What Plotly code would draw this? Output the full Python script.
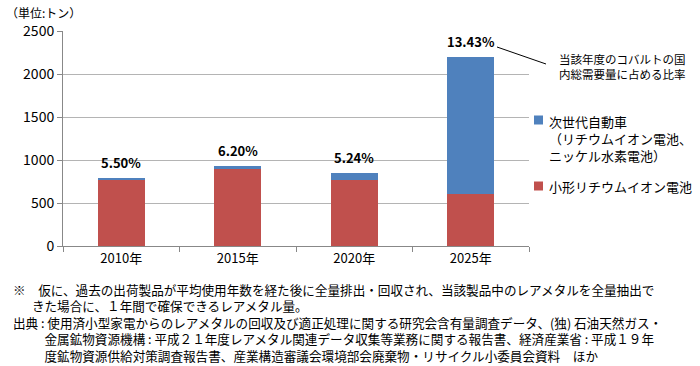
import plotly.graph_objects as go

years = ["2010年", "2015年", "2020年", "2025年"]
small_li = [775, 900, 770, 600]          # 小形リチウムイオン電池
next_car = [10, 30, 80, 1600]            # 次世代自動車
ratios = ["5.50%", "6.20%", "5.24%", "13.43%"]

RED = "#C0504D"
BLUE = "#4F81BD"
FONT = "Noto Sans CJK JP"

fig = go.Figure()
fig.add_bar(x=years, y=small_li, marker_color=RED, width=0.4, name="小形リチウムイオン電池",
            marker_line_width=0)
fig.add_bar(x=years, y=next_car, marker_color=BLUE, width=0.4, name="次世代自動車",
            marker_line_width=0)

totals = [a + b for a, b in zip(small_li, next_car)]
for yr, tot, r in zip(years, totals, ratios):
    fig.add_annotation(x=yr, y=tot, text="<b>%s</b>" % r, showarrow=False,
                       yanchor="bottom", yshift=4, font=dict(size=13, color="black", family=FONT))


def px(xp):
    return (xp - 63) / 466


def py(yp):
    return (246 - yp) / 215


# pointer line from 13.43% to the callout
fig.add_shape(type="line", xref="paper", yref="paper",
              x0=px(497), y0=py(47), x1=px(546), y1=py(64),
              line=dict(color="black", width=1))
fig.add_annotation(xref="paper", yref="paper", x=px(557), y=py(66.5),
                   text="当該年度のコバルトの国<br>内総需要量に占める比率", showarrow=False,
                   xanchor="left", yanchor="middle", align="left",
                   font=dict(size=11.5, color="black", family=FONT))

# manual legend
for yc, col in [(120, BLUE), (186, RED)]:
    fig.add_shape(type="rect", xref="paper", yref="paper",
                  x0=px(534), x1=px(543), y0=py(yc + 4.5), y1=py(yc - 4.5),
                  fillcolor=col, line_width=0)
fig.add_annotation(xref="paper", yref="paper", x=px(547), y=py(110), yanchor="top",
                   xanchor="left", align="left", showarrow=False,
                   text="次世代自動車<br>（リチウムイオン電池、<br>ニッケル水素電池）",
                   font=dict(size=13, color="black", family=FONT))
fig.add_annotation(xref="paper", yref="paper", x=px(547), y=py(186), yanchor="middle",
                   xanchor="left", align="left", showarrow=False,
                   text="小形リチウムイオン電池",
                   font=dict(size=13, color="black", family=FONT))

# unit label
fig.add_annotation(xref="paper", yref="paper", x=px(4), y=py(12.5), xanchor="left", yanchor="middle",
                   showarrow=False, text="（単位:トン）", font=dict(size=12, color="black", family=FONT))

# footnotes (one block, indents with wide spaces)
notes = [
    "※\u3000仮に、過去の出荷製品が平均使用年数を経た後に全量排出・回収され、当該製品中のレアメタルを全量抽出で",
    "\u3000\u2002きた場合に、１年間で確保できるレアメタル量。",
    "出典 : 使用済小型家電からのレアメタルの回収及び適正処理に関する研究会含有量調査データ、(独) 石油天然ガス・",
    "\u3000\u3000\u2002金属鉱物資源機構 : 平成２１年度レアメタル関連データ収集等業務に関する報告書、経済産業省 : 平成１９年",
    "\u3000\u3000\u2002度鉱物資源供給対策調査報告書、産業構造審議会環境部会廃棄物・リサイクル小委員会資料\u3000ほか",
]
fig.add_annotation(xref="paper", yref="paper", x=px(11), y=py(322), xanchor="left", yanchor="middle",
                   align="left", showarrow=False, text="<br>".join(notes),
                   font=dict(size=12.6, color="black", family=FONT))

fig.update_layout(
    barmode="stack",
    width=700, height=366,
    margin=dict(l=63, r=171, t=31, b=120),
    paper_bgcolor="white", plot_bgcolor="white",
    showlegend=False,
    font=dict(family=FONT, color="black"),
)
fig.update_xaxes(showline=True, linecolor="#888888", linewidth=1, ticks="outside", tickson="boundaries",
                 ticklen=5, tickcolor="#888888", tickfont=dict(size=13, color="black", family=FONT),
                 showgrid=False)
fig.update_yaxes(range=[0, 2500], dtick=500, showline=True, linecolor="#888888", linewidth=1,
                 ticks="outside", ticklen=5, tickcolor="#888888", gridcolor="#b4b4b4", gridwidth=1,
                 tickfont=dict(size=14, color="black", family=FONT), zeroline=False)

fig.write_html("out.html", config={"displayModeBar": False})

# remove the default page margin so the figure sits at the window's corner
with open("out.html", encoding="utf-8") as f:
    html = f.read()
html = html.replace("<head>", "<head><style>html,body{margin:0;padding:0;overflow:hidden}</style>", 1)
with open("out.html", "w", encoding="utf-8") as f:
    f.write(html)
